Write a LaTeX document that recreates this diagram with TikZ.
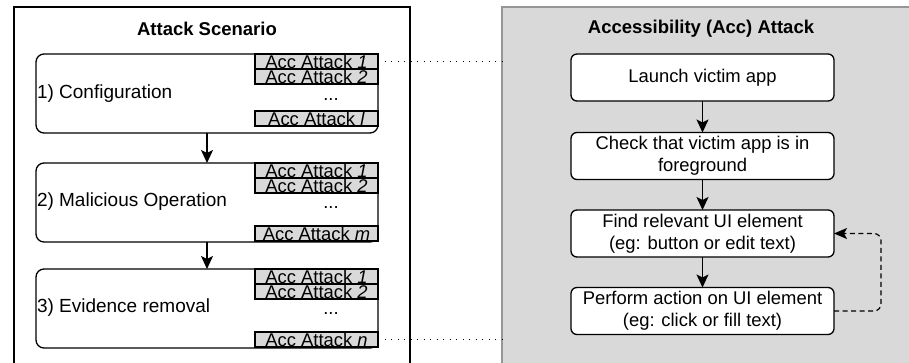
\documentclass[tikz,border=0pt]{standalone}
\usepackage{fontspec}
\setmainfont{Liberation Sans}
\usetikzlibrary{arrows.meta,calc}
\definecolor{accfill}{RGB}{217,217,217}
\definecolor{accborder}{RGB}{150,150,150}
\definecolor{subfill}{RGB}{217,217,217}
\begin{document}
\begin{tikzpicture}[x=1pt,y=-1pt,
  every node/.style={inner sep=0pt, outer sep=0pt},
  txt/.style={font=\fontsize{18.4}{21.7}\selectfont},
  container/.style={draw, line width=1.3pt, anchor=north west},
  phasebox/.style={draw, line width=1.3pt, rounded corners=8pt, anchor=north west, minimum width=342pt, minimum height=79pt},
  subrow/.style={draw, line width=1.3pt, fill=subfill, anchor=north west, minimum width=123pt, minimum height=15pt, txt},
  flowbox/.style={draw, line width=1.3pt, fill=white, rounded corners=6pt, minimum width=263pt, minimum height=47pt, align=center, txt},
  flowarrow/.style={line width=1.3pt, -{Stealth[length=13pt,width=12pt,inset=3pt]}},
  dotline/.style={line width=1pt, dash pattern=on 1pt off 5.5pt},
]
\clip (0,0) rectangle (909,362);
% containers
\node[container, minimum width=396pt, minimum height=370pt] (scen) at (14,7) {};
\node[container, draw=accborder, fill=accfill, line width=1.2pt, minimum width=420pt, minimum height=370pt] (acc) at (502,7) {};
\node[font=\fontsize{18.5}{22}\selectfont\bfseries] (scentitle) at (207,29) {Attack Scenario};
\node[font=\fontsize{18.5}{22}\selectfont\bfseries] (acctitle) at (701,29) {Accessibility (Acc) Attack};

% phase boxes
\node[phasebox] (p1) at (36,54) {};
\node[phasebox] (p2) at (36,163) {};
\node[phasebox] (p3) at (36,269) {};
\node[anchor=west, font=\fontsize{19}{22}\selectfont] (p1t) at (37,94) {1) Configuration};
\node[anchor=west, font=\fontsize{19}{22}\selectfont] (p2t) at (37,202) {2) Malicious Operation};
\node[anchor=west, font=\fontsize{19}{22}\selectfont] (p3t) at (37,308) {3) Evidence removal};

% sub rows phase 1
\node[subrow] (p1a) at (255,54) {Acc Attack \textit{1}};
\node[subrow] (p1b) at (255,69) {Acc Attack \textit{2}};
\node[txt, anchor=base] (p1d) at (331,100) {...};
\node[subrow] (p1c) at (255,111) {Acc Attack \textit{l}};
% sub rows phase 2
\node[subrow] (p2a) at (255,163) {Acc Attack \textit{1}};
\node[subrow] (p2b) at (255,178) {Acc Attack \textit{2}};
\node[txt, anchor=base] (p2d) at (331,208) {...};
\node[subrow] (p2c) at (255,226) {Acc Attack \textit{m}};
% sub rows phase 3
\node[subrow] (p3a) at (255,269) {Acc Attack \textit{1}};
\node[subrow] (p3b) at (255,284) {Acc Attack \textit{2}};
\node[txt, anchor=base] (p3d) at (331,314) {...};
\node[subrow] (p3c) at (255,332) {Acc Attack \textit{n}};

\draw[flowarrow] (p1.south) -- (p2.north);
\draw[flowarrow] (p2.south) -- (p3.north);

% flow boxes
\node[flowbox] (b1) at (702.5,77.5) {Launch victim app};
\node[flowbox] (b2) at (702.5,156) {Check that victim app is in\\foreground};
\node[flowbox] (b3) at (702.5,233.5) {Find relevant UI element\\(eg: button or edit text)};
\node[flowbox] (b4) at (702.5,311) {Perform action on UI element\\(eg: click or fill text)};
\draw[flowarrow] (b1.south) -- (b2.north);
\draw[flowarrow] (b2.south) -- (b3.north);
\draw[flowarrow] (b3.south) -- (b4.north);
\coordinate (loopc) at (881,0);
\draw[line width=1.2pt, dash pattern=on 5pt off 3.5pt, rounded corners=7pt, -{Stealth[length=13pt,width=11pt,inset=3pt]}]
  (b4.east) -- (b4.east -| loopc) -- (b3.east -| loopc) -- (b3.east);

% dotted links
\draw[dotline] (p1a.east) -- (p1a.east -| acc.west);
\draw[dotline] (p3c.east) -- (p3c.east -| acc.west);
\end{tikzpicture}
\end{document}
